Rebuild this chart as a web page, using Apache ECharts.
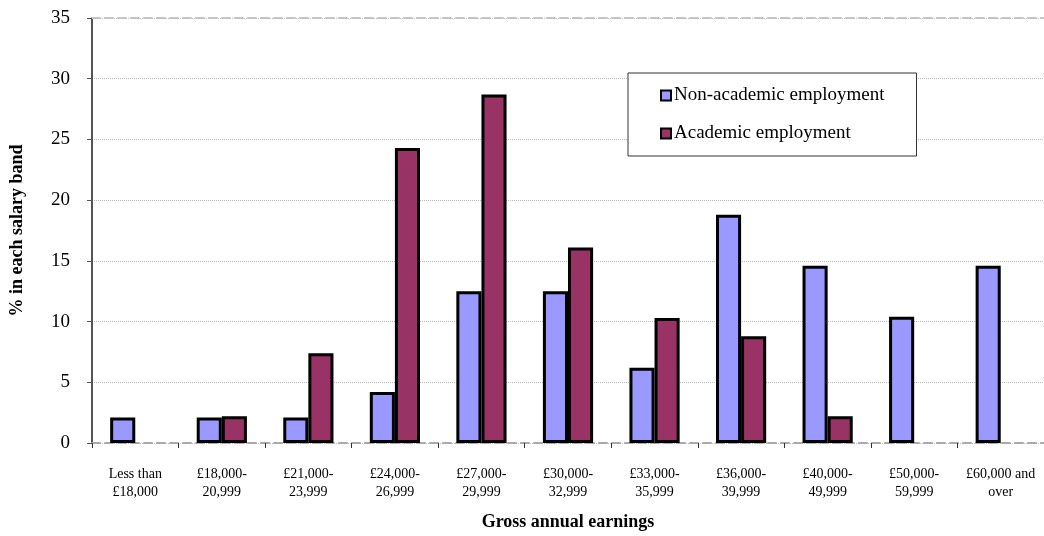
<!DOCTYPE html>
<html><head><meta charset="utf-8">
<script src="https://cdn.jsdelivr.net/npm/echarts@6/dist/echarts.min.js"></script>
<style>html,body{margin:0;padding:0;background:#fff}#c{width:1044px;height:536px}</style>
</head><body><div id="c"></div>
<script>
var categories = ['Less than\n£18,000','£18,000-\n20,999','£21,000-\n23,999','£24,000-\n26,999','£27,000-\n29,999','£30,000-\n32,999','£33,000-\n35,999','£36,000-\n39,999','£40,000-\n49,999','£50,000-\n59,999','£60,000 and\nover'];
var nonAcademic = [2.1, 2.1, 2.1, 4.2, 12.5, 12.5, 6.2, 18.8, 14.6, 10.4, 14.6];
var academic = [null, 2.2, 7.4, 24.3, 28.7, 16.1, 10.3, 8.8, 2.2, null, null];
var seriesNames = ['Non-academic employment', 'Academic employment'];
var yTicks = {min: 0, max: 35, interval: 5};

var FONT = '"Liberation Serif", "DejaVu Serif", serif';
var chart = echarts.init(document.getElementById('c'), null, {renderer: 'canvas'});
chart.setOption({
  animation: false,
  textStyle: {fontFamily: FONT},
  grid: {left: 89, top: 18, width: 960, height: 427, containLabel: false},
  legend: {
    orient: 'vertical', left: 628, top: 73,
    data: seriesNames, icon: 'rect',
    itemWidth: 10, itemHeight: 10, itemGap: 19,
    padding: [13, 32, 13, 32],
    backgroundColor: '#fff', borderColor: '#333', borderWidth: 1,
    textStyle: {fontFamily: FONT, fontSize: 19, color: '#000', padding: [0, 0, 0, -2]},
    itemStyle: {borderColor: '#000', borderWidth: 2}
  },
  xAxis: [{
    type: 'category', data: categories, gridIndex: 0, position: 'bottom',
    name: 'Gross annual earnings', nameLocation: 'middle', nameGap: 70,
    nameTextStyle: {fontFamily: FONT, fontSize: 18, fontWeight: 'bold', color: '#000'},
    axisLine: {lineStyle: {color: '#aaa', width: 2, type: [8, 5]}},
    axisTick: {show: true, length: 5, lineStyle: {color: '#333', width: 1}},
    axisLabel: {fontFamily: FONT, fontSize: 14, color: '#000', lineHeight: 18, margin: 22, interval: 0}
  }, {
    type: 'category', data: categories, gridIndex: 0, position: 'top',
    axisLine: {lineStyle: {color: '#c4c4c4', width: 2, type: [8, 5]}},
    axisTick: {show: false}, axisLabel: {show: false}
  }],
  yAxis: {
    type: 'value', min: yTicks.min, max: yTicks.max, interval: yTicks.interval,
    name: '% in each salary band', nameLocation: 'middle', nameGap: 66,
    nameTextStyle: {fontFamily: FONT, fontSize: 18, fontWeight: 'bold', color: '#000'},
    axisLine: {show: true, lineStyle: {color: '#555', width: 2}},
    axisTick: {show: true, length: 5, lineStyle: {color: '#555'}},
    axisLabel: {fontFamily: FONT, fontSize: 19, color: '#000', margin: 22},
    splitLine: {show: true, lineStyle: {color: '#bbb', type: 'dotted', width: 1}}
  },
  series: [{
    name: seriesNames[0], type: 'bar', data: nonAcademic, xAxisIndex: 0,
    barGap: '0%', barCategoryGap: '42%',
    itemStyle: {color: '#9999FF', borderColor: '#000', borderWidth: 3}
  }, {
    name: seriesNames[1], type: 'bar', data: academic, xAxisIndex: 0,
    barGap: '0%', barCategoryGap: '42%',
    itemStyle: {color: '#993366', borderColor: '#000', borderWidth: 3}
  }]
});
</script></body></html>
